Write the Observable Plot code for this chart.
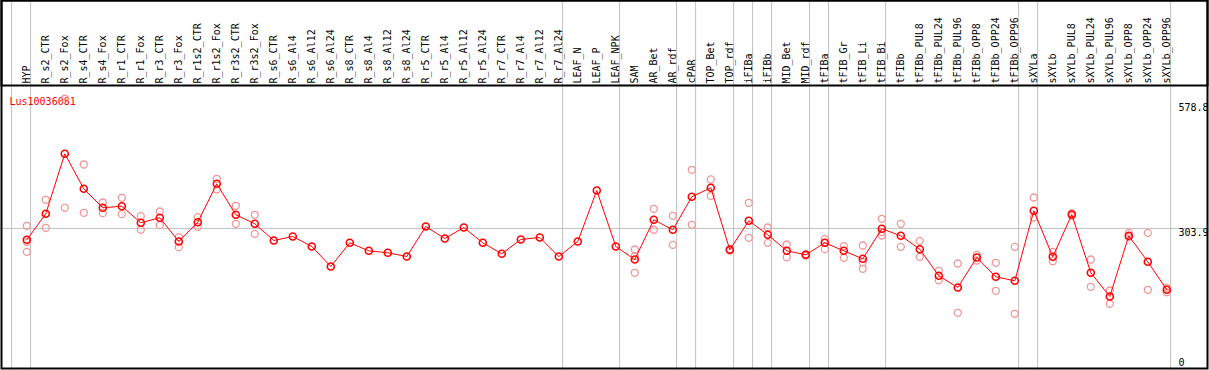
<!DOCTYPE html>
<html><head><meta charset="utf-8">
<script src="https://cdn.jsdelivr.net/npm/d3@7"></script>
<script src="https://cdn.jsdelivr.net/npm/@observablehq/plot@0.6"></script>
<style>body{margin:0;background:#fff} svg{display:block}</style>
</head><body><div id="chart"></div>
<script>
const geneId = "Lus10036081";
const categories = ["HYP","R_s2_CTR","R_s2_Fox","R_s4_CTR","R_s4_Fox","R_r1_CTR","R_r1_Fox","R_r3_CTR","R_r3_Fox","R_r1s2_CTR","R_r1s2_Fox","R_r3s2_CTR","R_r3s2_Fox","R_s6_CTR","R_s6_Al4","R_s6_Al12","R_s6_Al24","R_s8_CTR","R_s8_Al4","R_s8_Al12","R_s8_Al24","R_r5_CTR","R_r5_Al4","R_r5_Al12","R_r5_Al24","R_r7_CTR","R_r7_Al4","R_r7_Al12","R_r7_Al24","LEAF_N","LEAF_P","LEAF_NPK","SAM","AR_Bet","AR_rdf","cPAR","TOP_Bet","TOP_rdf","iFIBa","iFIBb","MID_Bet","MID_rdf","tFIBa","tFIB_Gr","tFIB_Li","tFIB_Bi","tFIBb","tFIBb_PUL8","tFIBb_PUL24","tFIBb_PUL96","tFIBb_OPP8","tFIBb_OPP24","tFIBb_OPP96","sXYLa","sXYLb","sXYLb_PUL8","sXYLb_PUL24","sXYLb_PUL96","sXYLb_OPP8","sXYLb_OPP24","sXYLb_OPP96"];
const means = [278.8,336.1,468.1,391.1,349.3,352.8,316.3,327.3,275.1,317.6,402.1,333.9,314.1,277.3,286.1,264.1,220.1,272.2,254.6,250.2,242.1,308.1,281.7,305.9,272.2,248.0,279.5,283.9,242.1,275.1,387.3,264.1,235.5,322.9,300.9,373.5,393.3,256.8,320.7,289.8,254.6,245.8,272.2,254.6,237.0,303.1,287.6,258.2,199.6,173.9,239.9,197.4,188.6,342.7,241.4,334.5,206.2,154.1,287.6,230.4,168.8];
const replicates = [
  [309.7,252.4,274.3],[366.9,305.3],[589.2,349.3],[444.6,338.3],[360.9,337.4],[371.3,335.2],[330.8,300.9],[341.1,311.0],[284.6,262.6],[328.6,307.5],[413.1,389.5],[353.7,314.1],[333.9,292.0],
  [],[],[],[],[],[],[],[],[],[],[],[],[],[],[],[],[],[],[],
  [257.5,206.2,242.7],[347.1,300.9],[331.7,267.8],[432.9,311.9],[411.6,375.7],[258.2,255.3],[360.3,283.2],[305.9,272.2],[268.5,240.5],[247,244],[280.2,258.2],[264.8,239.2],[266.3,215.0,229.5],[325.1,288.3,296],[314.1,263.4],[276.6,241.4],[210.6,189.9],[226.7,118.2],[245.8,233.3],[228.2,166.6],[263.4,116.0],[371.9,327.9],[252.4,231.7],[337.4,331.7],[235.5,175.4],[167.3,138.0],[294.2,284.6],[294.2,168.8],[173.2,163.5]
];
// categories after which a group separator is drawn ("" = before the first)
const groupEnds = ["", "HYP","R_r7_Al24","LEAF_NPK","AR_rdf","cPAR","TOP_rdf","iFIBa","iFIBb","MID_rdf","tFIBa","tFIB_Bi","tFIBb_OPP96","sXYLa","sXYLb_OPP96"];
const yMax = 578.8;
const yRef = 303.9;
const yTickLabels = [578.8, 303.9, 0];

const W = 1209, H = 370;
const rows = categories.map((c, i) => ({i, c, m: means[i]}));
const reps = replicates.flatMap((a, i) => a.map(v => ({i, v})));
const seps = groupEnds.map(g => (g === "" ? -1 : categories.indexOf(g)) + 0.2);
const font = "DejaVu Sans Mono";

const chart = Plot.plot({
  width: W, height: H,
  margin: 0,
  style: {background: "white", fontFamily: font, fontSize: "10px"},
  x: {type: "linear", domain: [-26.3/19, (W - 26.3)/19], range: [0, W], axis: null},
  y: {type: "linear", domain: [0, yMax], range: [366, 103], axis: null},
  marks: [
    Plot.ruleX(seps, {x: d => d, stroke: "#c0c0c0", strokeWidth: 1}),
    Plot.ruleY([yRef], {stroke: "#c0c0c0", strokeWidth: 1}),
    Plot.frame({stroke: "black", strokeWidth: 2, insetLeft: 1, insetTop: 0, insetRight: 2, insetBottom: 2}),
    Plot.frame({stroke: "black", strokeWidth: 2, insetLeft: 1, insetTop: 0, insetRight: 2, insetBottom: H - 85}),
    Plot.text(rows, {x: "i", text: "c", frameAnchor: "bottom", dx: 3, dy: -287, rotate: -90, textAnchor: "start", fill: "black", fontSize: 10, fontFamily: font}),
    Plot.text([geneId], {text: d => d, frameAnchor: "top-left", dx: 9, dy: 97, textAnchor: "start", fill: "red", fontSize: 10, fontFamily: font}),
    Plot.text(yTickLabels.filter(d => d > 0), {y: d => d, text: d => d.toFixed(1), frameAnchor: "right", dx: -31, dy: 4, textAnchor: "start", fill: "black", fontSize: 10, fontFamily: font}),
    Plot.text(yTickLabels.filter(d => d === 0), {y: d => d, text: d => String(d), frameAnchor: "right", dx: -31, dy: -4, textAnchor: "start", fill: "black", fontSize: 10, fontFamily: font}),
    Plot.dot(reps, {x: "i", y: "v", r: 3.5, stroke: "#f09898", strokeWidth: 1.3, fill: "none"}),
    Plot.line(rows, {x: "i", y: "m", stroke: "red", strokeWidth: 1}),
    Plot.dot(rows, {x: "i", y: "m", r: 3.5, stroke: "red", strokeWidth: 1.6, fill: "none"})
  ]
});
document.getElementById("chart").append(chart);
</script>
</body></html>
